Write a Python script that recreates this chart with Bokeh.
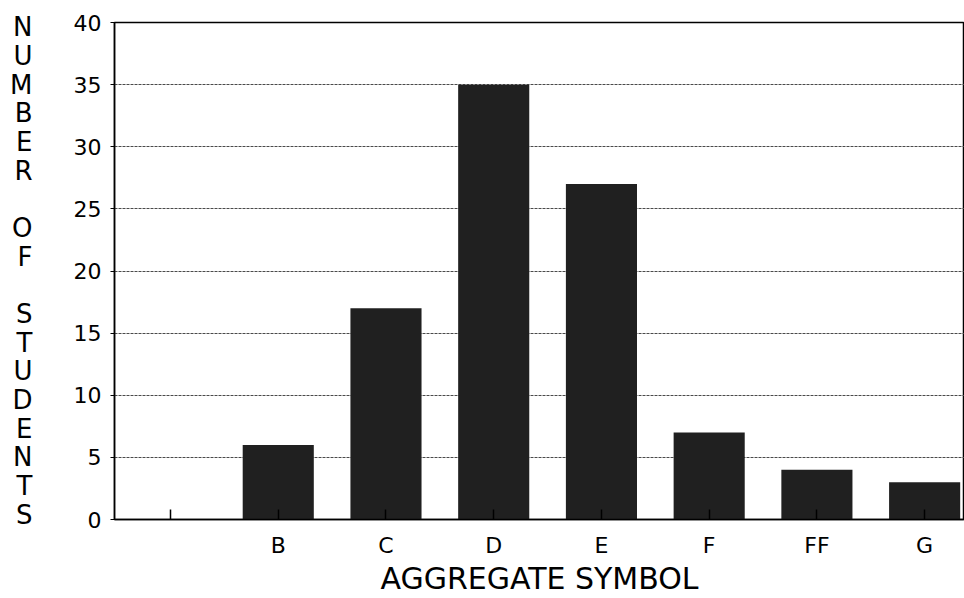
from bokeh.plotting import figure
from bokeh.models import Range1d, FixedTicker
from bokeh.embed import file_html
from bokeh.resources import INLINE

categories = ["", "B", "C", "D", "E", "F", "FF", "G"]
counts = [0, 6, 17, 35, 27, 7, 4, 3]
y_ticks = [0, 5, 10, 15, 20, 25, 30, 35, 40]
y_title = "NUMBER OF STUDENTS"
x_title = "AGGREGATE SYMBOL"

positions = list(range(1, len(categories) + 1))

FONT = "DejaVu Sans"

p = figure(width=964, height=598, output_backend="svg", toolbar_location=None,
           x_range=Range1d(0.48, 8.37), y_range=Range1d(0, 40),
           min_border_left=114, min_border_top=22, min_border_right=0, min_border_bottom=79)

p.vbar(x=positions, top=counts, width=0.66, fill_color="#202020", line_color=None)

p.outline_line_color = "black"
p.outline_line_width = 1.5

# x axis
xa = p.xaxis[0]
xa.ticker = FixedTicker(ticks=positions)
xa.major_label_overrides = {pos: lab for pos, lab in zip(positions, categories)}
xa.major_tick_in = 10
xa.major_tick_out = 0
xa.minor_tick_line_color = None
xa.axis_line_width = 1.5
xa.major_tick_line_width = 1.5
xa.major_label_text_font = FONT
xa.major_label_text_font_size = "22px"
xa.major_label_text_color = "black"
xa.major_label_standoff = 13
xa.axis_label = x_title
xa.axis_label_text_font = FONT
xa.axis_label_text_font_size = "30px"
xa.axis_label_text_font_style = "normal"
xa.axis_label_text_color = "black"
xa.axis_label_standoff = 0

# y axis
ya = p.yaxis[0]
ya.ticker = FixedTicker(ticks=y_ticks)
ya.major_tick_in = 0
ya.major_tick_out = 4
ya.minor_tick_line_color = None
ya.axis_line_width = 1.5
ya.major_label_text_font = FONT
ya.major_label_text_font_size = "22px"
ya.major_label_text_color = "black"
ya.major_label_standoff = 9
ya.axis_label = "\n".join(list(y_title))
ya.axis_label_orientation = "horizontal"
ya.axis_label_text_font = FONT
ya.axis_label_text_font_size = "26px"
ya.axis_label_text_font_style = "normal"
ya.axis_label_text_color = "black"
ya.axis_label_text_line_height = 0.955
ya.axis_label_standoff = 38

p.xgrid.grid_line_color = None
p.ygrid.grid_line_color = "#4a4a4a"
p.ygrid.grid_line_dash = "3 1"
p.ygrid.grid_line_width = 1

open("out.html", "w").write(file_html(p, INLINE))
